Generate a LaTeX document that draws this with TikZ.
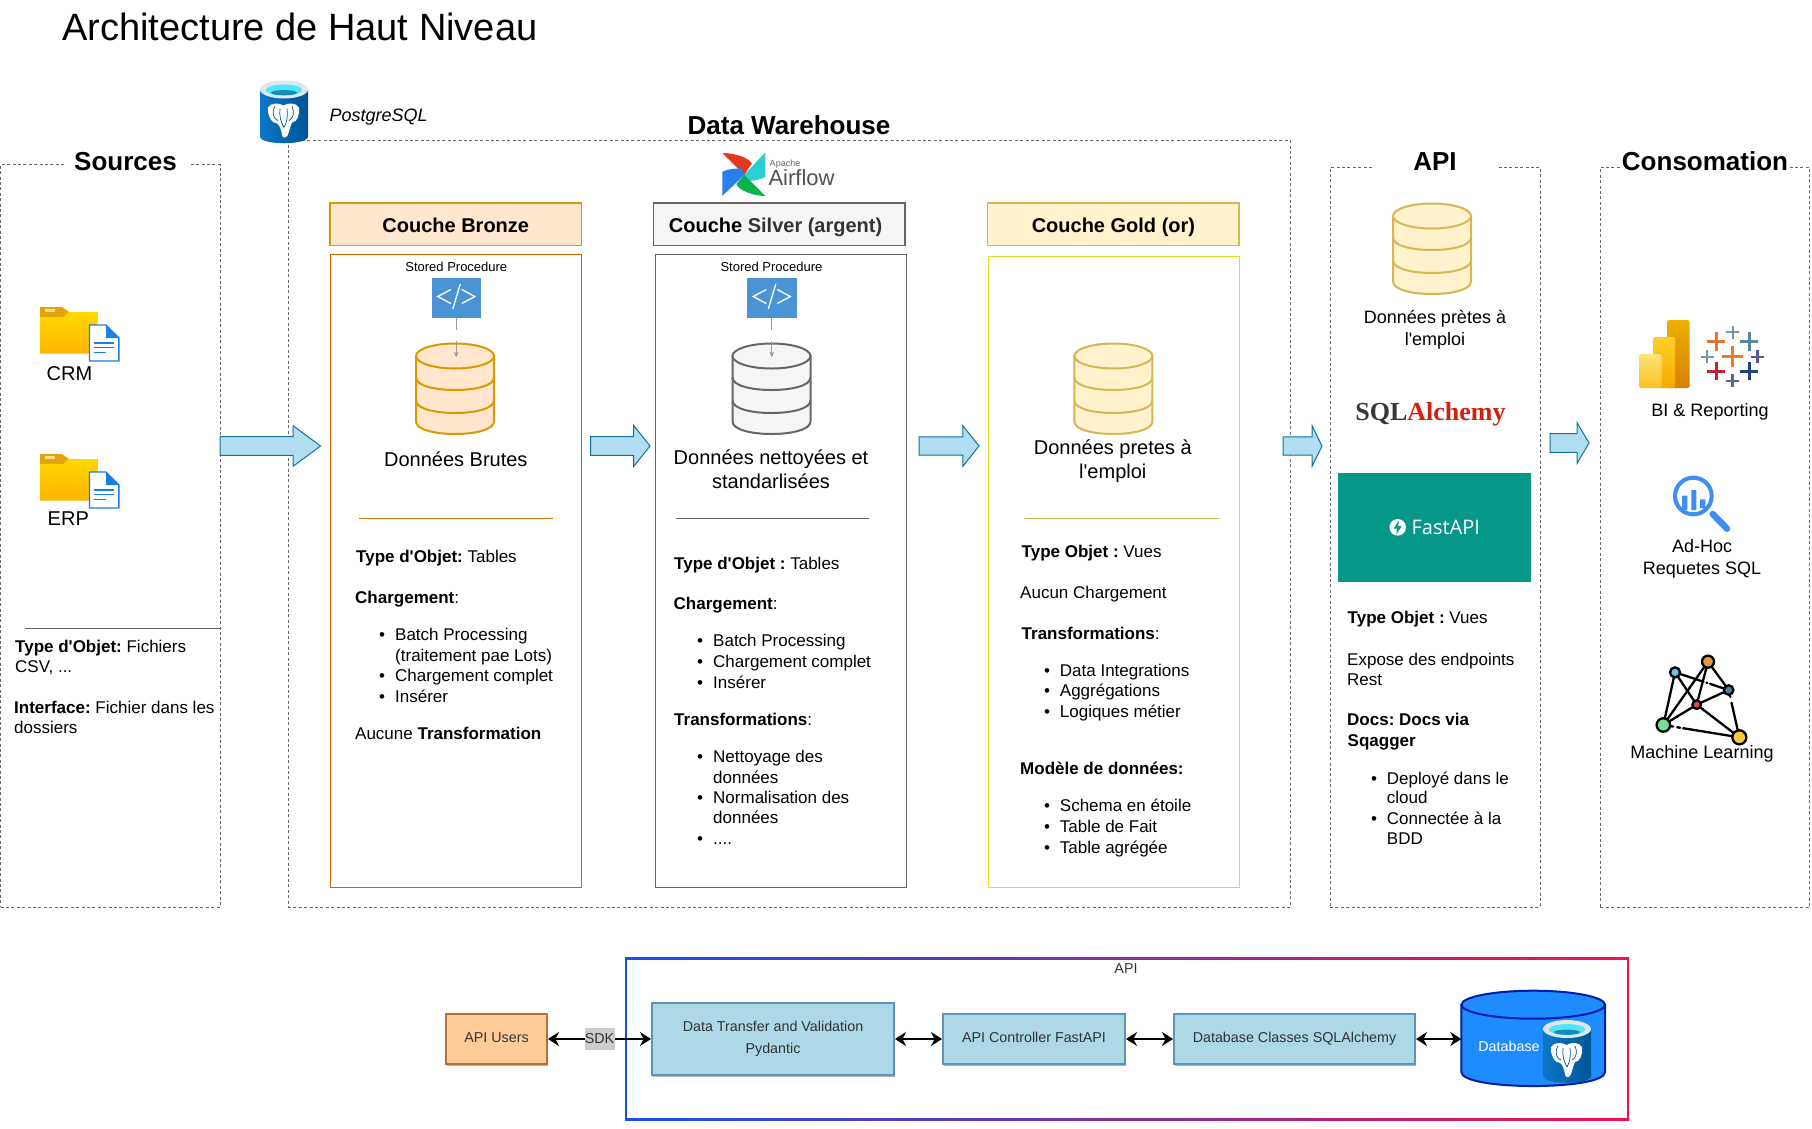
\documentclass[tikz,border=0pt]{standalone}
\usepackage{fontspec}
\usetikzlibrary{arrows.meta,calc,shadows}
\setmainfont{Liberation Sans}
\newfontfamily\plainf{Liberation Sans}
\newfontfamily\serifb{Liberation Serif}
\newfontfamily\fastf{Open Sans}
\AtBeginDocument{\plainf\frenchspacing}
\newcommand{\fsz}[1]{\fontsize{#1}{#1}\selectfont}
\newcommand{\fszl}[2]{\fontsize{#1}{#2}\selectfont}
\definecolor{dashc}{HTML}{666666}
\definecolor{brF}{HTML}{FFE6CC}\definecolor{brS}{HTML}{D79B00}\definecolor{brB}{HTML}{CC6600}
\definecolor{siF}{HTML}{F5F5F5}\definecolor{siS}{HTML}{666666}
\definecolor{goF}{HTML}{FFF2CC}\definecolor{goS}{HTML}{D6B656}\definecolor{goB}{HTML}{E6DC1E}
\definecolor{arF}{HTML}{B1DDF0}\definecolor{arS}{HTML}{10739E}
\definecolor{codeb}{HTML}{4A94D6}
\definecolor{lbF}{HTML}{ADD8E6}\definecolor{lbS}{HTML}{5E93BF}
\definecolor{txtg}{HTML}{333333}
\definecolor{tabO}{HTML}{E8762C}\definecolor{tabT}{HTML}{7099A6}\definecolor{tabB}{HTML}{5B879B}
\definecolor{tabM}{HTML}{EB7A2B}\definecolor{tabP}{HTML}{59598F}\definecolor{tabR}{HTML}{C72035}
\definecolor{tabN}{HTML}{1F447A}\definecolor{tabV}{HTML}{5C6692}
\tikzset{
  x=1pt,y=-1pt,
  bodytxt/.style={anchor=west,inner sep=0pt,text height=14.4pt,text depth=1.6pt,font=\fsz{17}},
  ctr/.style={inner sep=0pt,align=center},
  dashbox/.style={draw=dashc,line width=0.9pt,dash pattern=on 3pt off 2.4pt,anchor=north west,inner sep=0pt,outer sep=0pt},
  title/.style={inner sep=0pt,font=\bfseries\fsz{26}},
  header/.style={inner sep=0pt,minimum height=42.6pt,line width=1.1pt,font=\bfseries\fsz{20},text height=18pt,text depth=2pt},
  panel/.style={anchor=north west,inner sep=0pt,outer sep=0pt,line width=0.8pt},
  blockar/.style={fill=arF,draw=arS,line width=1pt},
  smallar/.style={draw=black!38,line width=0.9pt,dash pattern=on 12pt off 11.5pt on 20pt,-{Stealth[length=6pt,width=5pt]}},
  dbl/.style={line width=2.3pt,{Stealth[length=11pt,width=14pt]}-{Stealth[length=11pt,width=14pt]}},
  lowbox/.style={fill=lbF,draw=lbS,line width=2pt,inner sep=0pt,align=center,text=txtg,font=\fszl{14.3}{22},
    drop shadow={shadow xshift=0.8pt,shadow yshift=-1.6pt,opacity=0.3,fill=black}},
  lowone/.style={text height=10.5pt,text depth=3pt},
  mlnode/.style={circle,draw=black,line width=2.3pt,inner sep=0pt},
  mledge/.style={line width=2.3pt,line cap=round}
}
\newcommand{\TL}[4]{\node[bodytxt] (#1) at (#2,#3) {#4};}
\newcommand{\BL}[5]{\node[bodytxt] (#1b) at (#2-2,#4) {•};\node[bodytxt] (#1) at (#3,#4) {#5};}
\newcommand{\blockarrow}[6]{% x1 xh x2 yc halfshaft halfhead
  \draw[blockar] (#1,#4-#5) -- (#2,#4-#5) -- (#2,#4-#6) -- (#3,#4) -- (#2,#4+#6) -- (#2,#4+#5) -- (#1,#4+#5) -- cycle;}
\newcommand{\dbcyl}[5]{%
  \begin{scope}[shift={(#2,#3)}]
    \coordinate (#1) at (39,14);
    \draw[draw=#5,fill=#4,line width=2pt] (0,12.5) -- (0,78) .. controls (0,94.67) and (78,94.67) .. (78,78) -- (78,12.5) -- cycle;
    \draw[draw=#5,fill=#4,line width=2pt] (39,12.5) ellipse [x radius=39,y radius=12.5];
    \draw[draw=#5,line width=2pt] (0,34) .. controls (0,50.67) and (78,50.67) .. (78,34);
    \draw[draw=#5,line width=2pt] (0,57) .. controls (0,73.67) and (78,73.67) .. (78,57);
  \end{scope}}
\newcommand{\codeicon}[3]{%
  \node[fill=codeb,minimum width=49.5pt,minimum height=40pt,inner sep=0pt] (#1) at (#2,#3) {};
  \begin{scope}[shift={(#2,#3)},draw=white,line width=1.3pt]
    \draw (-5.5,-8) -- (-18.5,-1) -- (-5.5,6);
    \draw (5.5,-8) -- (18.5,-1) -- (5.5,6);
    \draw (-3.5,11.5) -- (4,-13.5);
  \end{scope}}
\newcommand{\foldericon}[2]{%
  \begin{scope}[shift={(#1,#2)}]
    \fill[fill={rgb,255:red,227;green,163;blue,13}] (0,0) -- (22,0) -- (29,5) -- (57.6,5) -- (57.6,14) -- (0,14) -- cycle;
    \fill[fill={rgb,255:red,255;green,224;blue,130}] (5,2.4) rectangle (15,4.6);
    \shade[top color={rgb,255:red,255;green,216;blue,0},bottom color={rgb,255:red,255;green,180;blue,0}] (0,10) -- (23,10) -- (29,5) -- (57.6,5) -- (57.6,46.6) -- (0,46.6) -- cycle;
    \definecolor{docb}{HTML}{1A7FE0}
    \draw[draw=docb,fill=white,line width=1.4pt] (49.5,18) -- (66,18) -- (78.8,31) -- (78.8,54) -- (49.5,54) -- cycle;
    \fill[docb] (66,18) -- (78.8,31) -- (66,31) -- cycle;
    \draw[docb,line width=1.7pt] (53.6,36) -- (73.7,36) (53.6,40.6) -- (73.7,40.6) (53.6,45.5) -- (66,45.5);
  \end{scope}}
\newcommand{\pgicon}[2]{%
  \begin{scope}[shift={(#1,#2)}]
    \shade[left color={rgb,255:red,10;green,120;blue,200},right color={rgb,255:red,0;green,84;blue,150}] (0,9) -- (0,56) .. controls (0,65) and (48,65) .. (48,56) -- (48,9) -- cycle;
    \fill[fill={rgb,255:red,222;green,232;blue,236}] (24,9) ellipse [x radius=24,y radius=9];
    \fill[fill={rgb,255:red,80;green,230;blue,255}] (24,9.5) ellipse [x radius=18.3,y radius=5.4];
    \fill[fill={rgb,255:red,25;green,138;blue,179}] (24,12.2) ellipse [x radius=13,y radius=2.6];
    \fill[white] (8,27) .. controls (11,22) and (19,22) .. (23.5,25) .. controls (28,22) and (36,22) .. (39,27)
      .. controls (40,34) and (37,42) .. (32,42) .. controls (30,46) and (29,52) .. (27.5,55)
      .. controls (26,58) and (22,58) .. (22,54) .. controls (21,49) and (20,45) .. (17,43)
      .. controls (12,43) and (7,35) .. (8,27) -- cycle;
    \draw[draw={rgb,255:red,0;green,84;blue,150},line width=0.7pt] (15,26) .. controls (11,32) and (14,39) .. (18,40)
      (32,26) .. controls (35,32) and (33,38) .. (29,40) (20,28) .. controls (19,35) and (21,42) .. (24,47)
      (27,28) .. controls (28,35) and (27,42) .. (24,47);
  \end{scope}}
\newcommand{\tabcross}[5]{\draw[draw=#5,line width=#4pt] (#1-#3,#2) -- (#1+#3,#2) (#1,#2-#3) -- (#1,#2+#3);}
\begin{document}
\begin{tikzpicture}
\useasboundingbox (0,0) rectangle (1812,1128);
\fill[white] (0,0) rectangle (1812,1128);

\node[inner sep=0pt,anchor=west,font=\fsz{38}] (maintitle) at (62,27) {Architecture de Haut Niveau};

% ---- dashed frames
\node[dashbox,minimum width=219.4pt,minimum height=742.5pt] (srcbox) at (0.6,164.5) {};
\node[dashbox,minimum width=1002pt,minimum height=767pt] (dwbox) at (288,140) {};
\node[dashbox,minimum width=210pt,minimum height=739.7pt] (apibox) at (1330,167.3) {};
\node[dashbox,minimum width=209.6pt,minimum height=739.7pt] (conbox) at (1600.3,167.3) {};
\node[title,fill=white,minimum width=124pt,minimum height=22pt] (srct) at (125.5,162) {Sources};
\node[title] (dwt) at (789,125) {Data Warehouse};
\node[title,fill=white,minimum width=124pt,minimum height=22pt] (apit) at (1435,161.5) {API};
\node[title,fill=white,minimum height=22pt] (cont) at (1705,161.5) {Consomation};

% ---- sources
\foldericon{40}{307}
\node[ctr,font=\fsz{20}] (crm) at (69.5,374) {CRM};
\foldericon{40}{454}
\node[ctr,font=\fsz{20}] (erp) at (68.3,519) {ERP};
\coordinate (srcA) at (25.4,628.6);\coordinate (srcB) at (219.6,628.6);
\draw[draw=dashc,line width=1pt] (srcA) -- (srcB);
\TL{s1}{15}{646}{\textbf{Type d'Objet:} Fichiers}
\TL{s2}{15}{665.6}{CSV, ...}
\TL{s3}{14}{707}{\textbf{Interface:} Fichier dans les}
\TL{s4}{14}{727}{dossiers}

% ---- PostgreSQL, Airflow
\pgicon{260}{80.5}
\node[inner sep=0pt,anchor=west,font=\itshape\fsz{18}] (pg) at (329.5,117) {PostgreSQL};
\begin{scope}[shift={(744.3,175)}]
  \fill[fill={rgb,255:red,228;green,57;blue,33}] (0,0) -- (-22,-22) .. controls (-10,-22) and (3,-18) .. (7.6,-11.7) -- cycle;
  \fill[fill={rgb,255:red,42;green,208;blue,214}] (0,0) -- (21,-22.7) -- (21,2) .. controls (12,6) and (5,6) .. (1.3,6.7) -- cycle;
  \fill[fill={rgb,255:red,12;green,179;blue,74}] (0,0) -- (21,21) .. controls (10,21) and (-5,16) .. (-8,9) -- cycle;
  \fill[fill={rgb,255:red,42;green,127;blue,240}] (0,0) -- (-22,21) -- (-22,-3) .. controls (-15,-7) and (-7,-6) .. (-3,-7) -- cycle;
\end{scope}
\node[inner sep=0pt,text=black!60,font=\fsz{9}] (apache) at (785,164.5) {Apache};
\node[inner sep=0pt,text=black!68,font=\fsz{22}] (airflow) at (801.5,178) {Airflow};

% ---- headers
\node[header,draw=brS,fill=brF,minimum width=251.5pt] (hb) at (455.75,224.3) {Couche Bronze};
\node[header,draw=siS,fill=siF,minimum width=251.5pt] (hs) at (779.2,224.3) {Couche \textcolor{txtg}{Silver (argent)}\hspace*{7.2pt}};
\node[header,draw=goS,fill=goF,minimum width=251.2pt] (hg) at (1113.4,224.3) {Couche Gold (or)};

% ---- panels
\node[panel,draw=brB,minimum width=251.5pt,minimum height=632.8pt] (pb) at (330.2,254.6) {};
\node[panel,draw=siS,minimum width=251pt,minimum height=632.8pt] (ps) at (655.3,254.6) {};
\node[panel,draw=goB,minimum width=251pt,minimum height=631.4pt] (pg2) at (988,256) {};

% ---- bronze
\node[ctr,font=\fsz{13}] (spb) at (456.3,266.4) {Stored Procedure};
\dbcyl{cylb}{416}{343.5}{brF}{brS}
\codeicon{cib}{456.3}{297.5}
\draw[smallar] (cib.south) -- (cib.south |- cylb);
\node[ctr,font=\fsz{20}] (lb) at (455.8,459) {Données Brutes};
\coordinate (dbA) at (359,518);\coordinate (dbB) at (553,518);
\draw[draw=brB!80!brS,line width=1pt] (dbA) -- (dbB);
\TL{b1}{356}{556}{\textbf{Type d'Objet:} Tables}
\TL{b2}{355}{597.4}{\textbf{Chargement}:}
\BL{b3}{381}{395}{634.4}{Batch Processing}
\TL{b4}{395}{655}{(traitement pae Lots)}
\BL{b5}{381}{395}{675}{Chargement complet}
\BL{b6}{381}{395}{695.7}{Insérer}
\TL{b7}{355}{732.6}{Aucune \textbf{Transformation}}

% ---- silver
\node[ctr,font=\fsz{13}] (sps) at (771.5,266.4) {Stored Procedure};
\dbcyl{cyls}{732.5}{343.5}{siF}{siS}
\codeicon{cis}{771.8}{297.5}
\draw[smallar] (cis.south) -- (cis.south |- cyls);
\node[ctr,font=\fszl{20}{24}] (ls) at (771,469) {Données nettoyées et\\standarlisées};
\coordinate (dsA) at (675.6,518);\coordinate (dsB) at (869,518);
\draw[draw=siS,line width=1pt] (dsA) -- (dsB);
\TL{c1}{674}{562.8}{\textbf{Type d'Objet :} Tables}
\TL{c2}{673.5}{603}{\textbf{Chargement}:}
\BL{c3}{699}{713}{640}{Batch Processing}
\BL{c4}{699}{713}{661}{Chargement complet}
\BL{c5}{699}{713}{681.8}{Insérer}
\TL{c6}{674}{718.8}{\textbf{Transformations}:}
\BL{c7}{699}{713}{755.8}{Nettoyage des}
\TL{c8}{713}{776.6}{données}
\BL{c9}{699}{713}{797.4}{Normalisation des}
\TL{c10}{713}{817}{données}
\BL{c11}{699}{713}{837.8}{....}

% ---- gold
\dbcyl{cylg}{1074.4}{343.5}{goF}{goS}
\node[ctr,font=\fszl{20}{24}] (lg) at (1112.8,461) {Données pretes à\\l'emploi};
\coordinate (dgA) at (1025,518);\coordinate (dgB) at (1218.6,518);
\draw[draw=goS,line width=1pt] (dgA) -- (dgB);
\TL{g1}{1021.5}{551.2}{\textbf{Type Objet :} Vues}
\TL{g2}{1020}{591.7}{Aucun Chargement}
\TL{g3}{1021.5}{633}{\textbf{Transformations}:}
\BL{g4}{1045.8}{1059.7}{670}{Data Integrations}
\BL{g5}{1045.8}{1059.7}{690}{Aggrégations}
\BL{g6}{1045.8}{1059.7}{710.7}{Logiques métier}
\TL{g7}{1020}{768.5}{\textbf{Modèle de données:}}
\BL{g8}{1045.8}{1059.7}{805.5}{Schema en étoile}
\BL{g9}{1045.8}{1059.7}{826.3}{Table de Fait}
\BL{g10}{1045.8}{1059.7}{847}{Table agrégée}

% ---- block arrows
\blockarrow{220}{293}{320.5}{446}{9.3}{20.4}
\blockarrow{590.7}{633.7}{650}{446}{9.3}{20.4}
\blockarrow{919}{962.8}{979}{446}{9.2}{20.4}
\blockarrow{1283}{1312}{1322}{446}{9.2}{20.4}
\blockarrow{1550}{1577}{1589}{443}{9.3}{20.4}

% ---- API column
\dbcyl{cyla}{1393}{203.5}{goF}{goS}
\node[ctr,font=\fszl{18}{22}] (la) at (1435,330) {Données prètes à\\l'emploi};
\node[inner sep=0pt,font=\serifb\bfseries\fsz{26}] (sqla) at (1430.5,414.5) {\textcolor{black!78}{SQL}\textcolor[HTML]{D02010}{Alchemy}};
\node[fill={rgb,255:red,5;green,152;blue,136},minimum width=193pt,minimum height=108.7pt,inner sep=0pt] (fast) at (1434.5,527.3) {};
\node[inner sep=0pt,text=white,font=\fastf\fsz{20}] (fastt) at (1445.8,527.3) {FastAPI};
\begin{scope}[shift={(1397.7,527.3)}]
  \fill[white] (0,0) circle [radius=8.3];
  \fill[fill={rgb,255:red,5;green,152;blue,136}] (1.3,-7) -- (-4,1.3) -- (-0.5,1.3) -- (-1.3,7) -- (4,-1.3) -- (0.5,-1.3) -- cycle;
\end{scope}
\TL{a1}{1347.5}{617}{\textbf{Type Objet :} Vues}
\TL{a2}{1347}{658.7}{Expose des endpoints}
\TL{a3}{1347}{679.5}{Rest}
\TL{a4}{1347}{718.8}{\textbf{Docs: Docs via}}
\TL{a5}{1347.5}{739.6}{\textbf{Sqagger}}
\BL{a6}{1373}{1386.7}{777.7}{Deployé dans le}
\TL{a7}{1386.7}{797.4}{cloud}
\BL{a8}{1373}{1386.7}{818}{Connectée à la}
\TL{a9}{1386.7}{837.8}{BDD}

% ---- Consomation icons
\shade[top color={rgb,255:red,238;green,176;blue,0},bottom color={rgb,255:red,216;green,126;blue,0},rounded corners=1.5pt] (1667,320) rectangle (1689.5,388);
\shade[top color={rgb,255:red,255;green,208;blue,40},bottom color={rgb,255:red,245;green,170;blue,0},rounded corners=1.5pt] (1653,337) rectangle (1675,388);
\shade[top color={rgb,255:red,255;green,226;blue,120},bottom color={rgb,255:red,253;green,192;blue,32},rounded corners=1.5pt] (1639,354) rectangle (1661.5,388);
\begin{scope}[shift={(1600,300)},scale=0.33333]
  \tabcross{348}{125}{28}{3}{tabO}
  \tabcross{398}{97}{19}{1.9}{tabT}
  \tabcross{447}{125}{28}{3}{tabB}
  \tabcross{322}{170}{19}{1.9}{tabT}
  \tabcross{397}{170}{32}{3.4}{tabM}
  \tabcross{472}{170}{19}{2.3}{tabP}
  \tabcross{348}{213}{28}{3}{tabR}
  \tabcross{447}{213}{28}{3}{tabN}
  \tabcross{397}{242}{19}{2.3}{tabV}
\end{scope}
\node[ctr,font=\fsz{18}] (bi) at (1710,411.5) {BI \& Reporting};
\begin{scope}[shift={(1600,300)},scale=0.33333]
  \definecolor{magb}{HTML}{3F8CF2}
  \draw[draw=magb,line width=4.1pt] (280,588) circle [radius=55];
  \draw[draw=magb,line width=6.5pt,line cap=round] (338,642) -- (381,686);
  \fill[magb] (246,587) rectangle (262,630) (274,570) rectangle (289,630) (300,598) rectangle (316,625);
\end{scope}
\node[ctr,font=\fszl{18}{22}] (adh) at (1702,558.7) {Ad-Hoc\\Requetes SQL};
\begin{scope}[shift={(1600,300)},scale=0.33333]
  \coordinate (mo) at (324,1085);\coordinate (mc) at (225,1117);\coordinate (mb) at (386,1170);
  \coordinate (mr) at (290,1214);\coordinate (mg) at (190,1275);\coordinate (my) at (418,1312);
  \draw[mledge] (mg) -- (mo);
  \draw[mledge] (mg) -- (mc);
  \draw[mledge] (mc) -- (mr);
  \draw[mledge,dash pattern=on 30pt off 3pt on 1pt off 3pt on 30pt] (mc) -- (mb);
  \draw[mledge] (mo) -- (mr);
  \draw[mledge] (mo) -- (mb);
  \draw[mledge] (mr) -- (mb);
  \draw[mledge] (mr) -- (mg);
  \draw[mledge] (mr) -- (my);
  \draw[mledge,dash pattern=on 7pt off 6pt on 45pt] (mb) -- (my);
  \draw[mledge,dash pattern=on 10pt off 4pt on 3pt off 3pt on 70pt] (mg) -- (my);
  \node[mlnode,fill={rgb,255:red,226;green,152;blue,72},minimum size=12pt] (nmo) at (mo) {};
  \node[mlnode,fill={rgb,255:red,110;green,200;blue,235},minimum size=10pt] (nmc) at (mc) {};
  \node[mlnode,fill={rgb,255:red,74;green,128;blue,160},minimum size=9.5pt] (nmb) at (mb) {};
  \node[mlnode,fill={rgb,255:red,232;green,72;blue,72},minimum size=8.5pt] (nmr) at (mr) {};
  \node[mlnode,fill={rgb,255:red,118;green,222;blue,150},minimum size=13.5pt] (nmg) at (mg) {};
  \node[mlnode,fill={rgb,255:red,250;green,200;blue,60},minimum size=14pt] (nmy) at (my) {};
\end{scope}
\node[ctr,font=\fsz{18}] (ml) at (1702,754) {Machine Learning};

% ---- bottom diagram
\shade[left color={rgb,255:red,20;green,80;blue,240},right color={rgb,255:red,245;green,15;blue,75}] (625,957) rectangle (1629,959.2);
\shade[left color={rgb,255:red,20;green,80;blue,240},right color={rgb,255:red,245;green,15;blue,75}] (625,1118) rectangle (1629,1120.2);
\fill[fill={rgb,255:red,20;green,80;blue,240}] (625,957) rectangle (627.2,1120.2);
\fill[fill={rgb,255:red,245;green,15;blue,75}] (1626.8,957) rectangle (1629,1120.2);
\node[ctr,text=txtg,font=\fsz{14.3}] (apil) at (1126,969) {API};
\node[lowbox,lowone,fill={rgb,255:red,255;green,204;blue,153},draw={rgb,255:red,185;green,110;blue,50},minimum width=101pt,minimum height=50pt] (users) at (496.5,1039) {API Users};
\node[lowbox,minimum width=242pt,minimum height=72pt] (dt) at (773,1039) {\vphantom{Xy}Data Transfer and Validation\\Pydantic};
\node[lowbox,lowone,minimum width=182pt,minimum height=50pt] (ctrl) at (1034,1039) {API Controller FastAPI};
\node[lowbox,lowone,minimum width=241pt,minimum height=50pt] (dbc) at (1294.5,1039) {Database Classes SQLAlchemy};
\node[minimum width=143.4pt,minimum height=95pt,inner sep=0pt] (dbn) at (1533.2,1039) {};
\definecolor{dbB}{HTML}{1E8CFF}\definecolor{dbS}{HTML}{001DA8}
\draw[draw=dbS,fill=dbB,line width=2pt] (dbn.west |- 0,1004.7) -- (dbn.west |- 0,1072) .. controls (1461.5,1090.7) and (1604.9,1090.7) .. (dbn.east |- 0,1072) -- (dbn.east |- 0,1004.7) -- cycle;
\draw[draw=dbS,fill=dbB,line width=2pt] (1533.2,1004.7) ellipse [x radius=71.7,y radius=14];
\pgicon{1543}{1020}
\node[ctr,text=white,font=\fsz{14.3}] (dbl) at (1509,1046.7) {Database};
\draw[dbl] (users.east) -- (dt.west);
\node[fill=black!20,text=txtg,inner sep=0pt,minimum width=30pt,minimum height=22pt,font=\fsz{14.3}] (sdk) at (599.5,1039) {SDK};
\draw[dbl] (dt.east) -- (ctrl.west);
\draw[dbl] (ctrl.east) -- (dbc.west);
\draw[dbl] (dbc.east) -- (dbn.west);
\end{tikzpicture}
\end{document}
